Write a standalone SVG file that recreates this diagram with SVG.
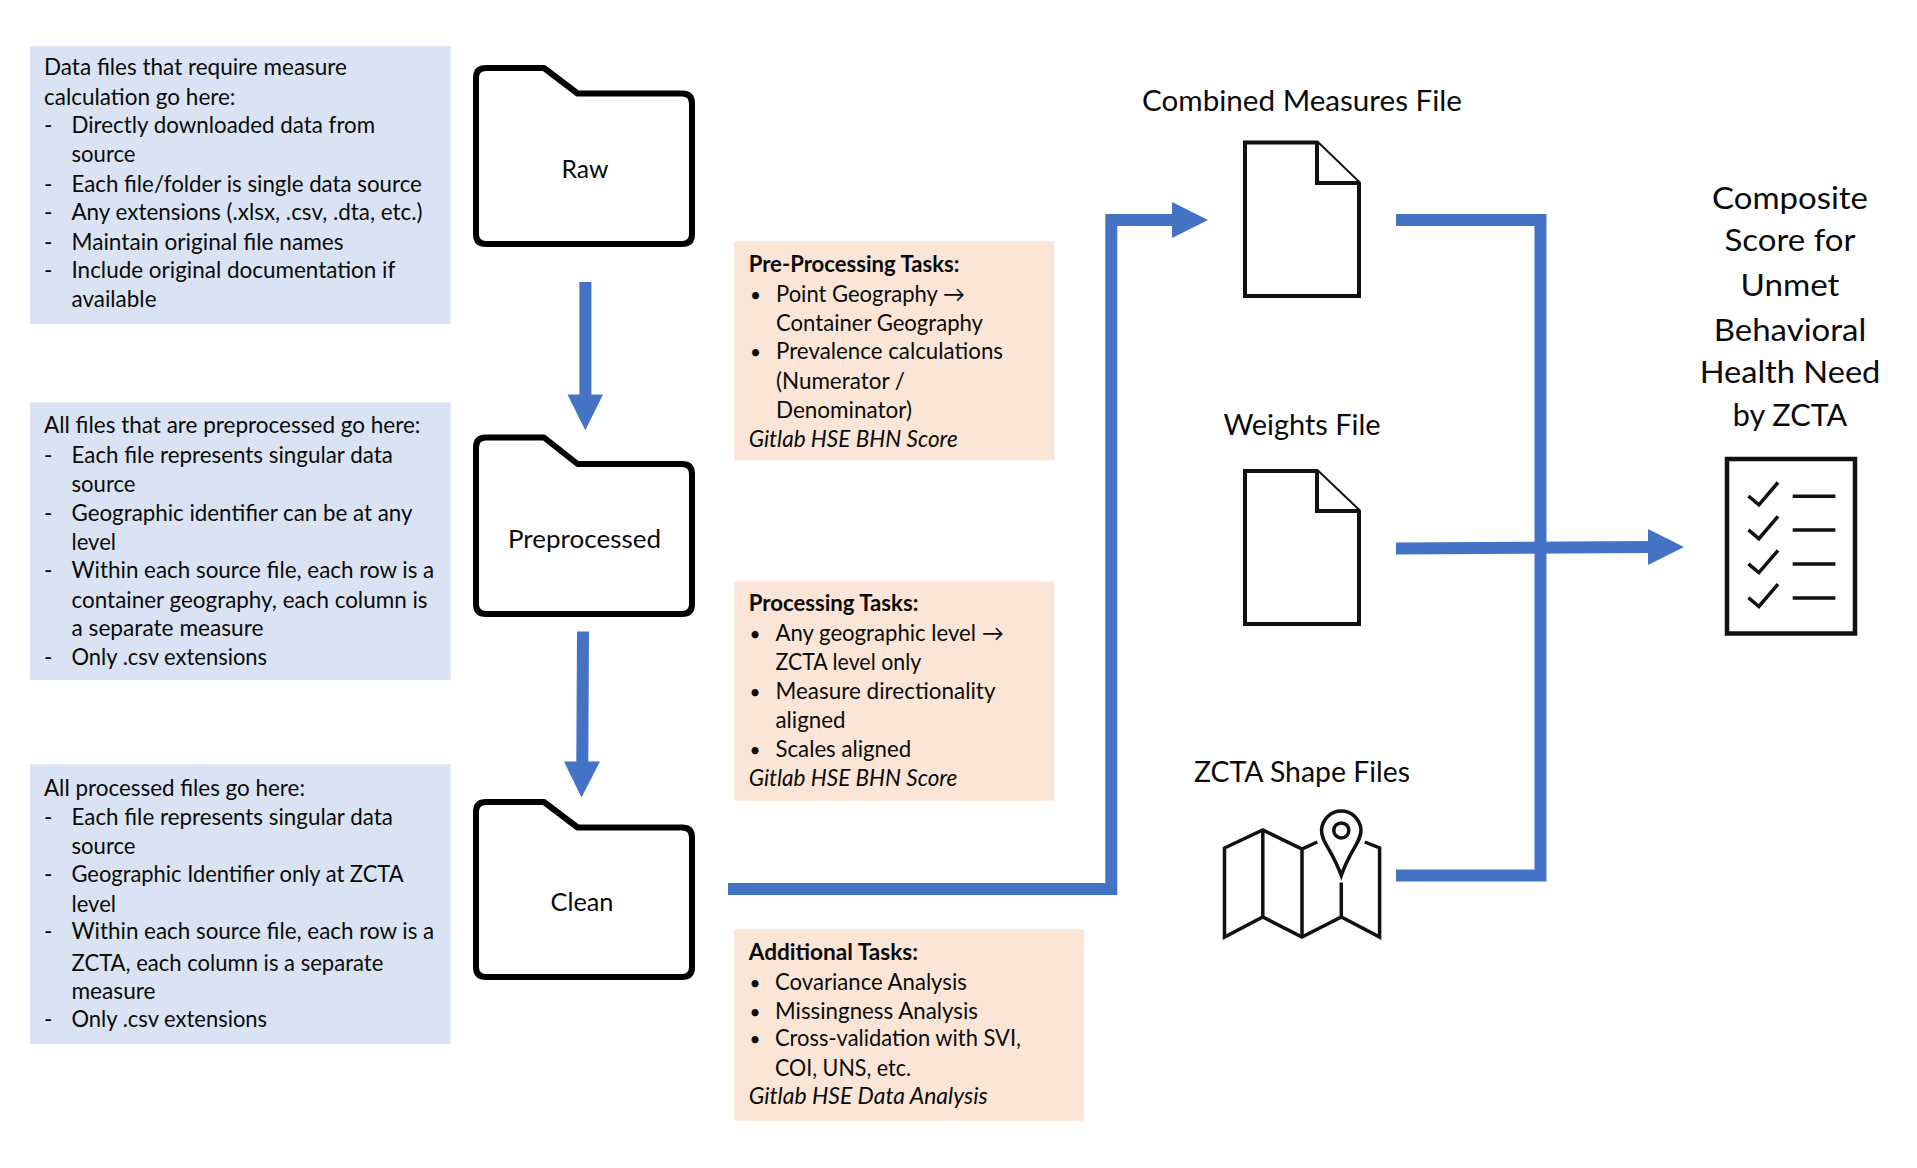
<svg xmlns="http://www.w3.org/2000/svg" width="1917" height="1168" viewBox="0 0 1917 1168">
<style>
text{font-family:Lato,"Liberation Sans",sans-serif;fill:#0a0a0a;font-size:22.5px}
.b{font-weight:700}
.i{font-style:italic}
.m{text-anchor:middle}
.d{font-size:19px}
.fl{font-size:25px}
.lb{font-size:28px}
.cs{font-size:30px}
.blue{fill:#dae3f3}
.orange{fill:#fbe5d6}
.folder{fill:#fff;stroke:#000;stroke-width:6;stroke-linejoin:round}
.doc{fill:#fff;stroke:#111;stroke-width:4;stroke-linejoin:miter}
.ic{fill:none;stroke:#111;stroke-width:3.5}
.conn{fill:none;stroke:#4472c4;stroke-width:12}
.head{fill:#4472c4}
</style>
<rect width="1917" height="1168" fill="#fff"/>
<g id="connectors">
<path class="conn" d="M585.4 282V395"/><polygon class="head" points="567.5,394.5 603,394.5 585.3,430.2"/>
<path class="conn" d="M583 631.5L582.3 762"/><polygon class="head" points="564,761.5 600,761.5 581.5,797.5"/>
<path class="conn" d="M728 889H1111.3V220H1173"/><polygon class="head" points="1172,202 1208,220 1172,238"/>
<path class="conn" d="M1396 220H1540.5V875.5H1396"/>
<path class="conn" d="M1396 548.5L1649 547"/><polygon class="head" points="1648,529 1684,547 1648,565"/>
</g>
<g id="note-raw"><rect class="blue" x="30" y="46.3" width="420.5" height="278"/>
<text x="44" y="75" textLength="303" lengthAdjust="spacingAndGlyphs">Data files that require measure</text>
<text x="44" y="104.5" textLength="191.5" lengthAdjust="spacingAndGlyphs">calculation go here:</text>
<text x="44" y="132.5">-</text><text x="71.5" y="132.5" textLength="303.6" lengthAdjust="spacingAndGlyphs">Directly downloaded data from</text>
<text x="71.5" y="161.7" textLength="64" lengthAdjust="spacingAndGlyphs">source</text>
<text x="44" y="191.5">-</text><text x="71.5" y="191.5" textLength="350.4" lengthAdjust="spacingAndGlyphs">Each file/folder is single data source</text>
<text x="44" y="220">-</text><text x="71.5" y="220" textLength="351" lengthAdjust="spacingAndGlyphs">Any extensions (.xlsx, .csv, .dta, etc.)</text>
<text x="44" y="249.8">-</text><text x="71.5" y="249.8" textLength="272" lengthAdjust="spacingAndGlyphs">Maintain original file names</text>
<text x="44" y="277.8">-</text><text x="71.5" y="277.8" textLength="323.8" lengthAdjust="spacingAndGlyphs">Include original documentation if</text>
<text x="71.5" y="306.7" textLength="85" lengthAdjust="spacingAndGlyphs">available</text>
</g>
<g id="note-preprocessed"><rect class="blue" x="30" y="402.3" width="420.5" height="277.7"/>
<text x="44" y="432.7" textLength="376.5" lengthAdjust="spacingAndGlyphs">All files that are preprocessed go here:</text>
<text x="44" y="463">-</text><text x="71.5" y="463" textLength="321.4" lengthAdjust="spacingAndGlyphs">Each file represents singular data</text>
<text x="71.5" y="492" textLength="64" lengthAdjust="spacingAndGlyphs">source</text>
<text x="44" y="520.5">-</text><text x="71.5" y="520.5" textLength="341" lengthAdjust="spacingAndGlyphs">Geographic identifier can be at any</text>
<text x="71.5" y="549.8" textLength="44.5" lengthAdjust="spacingAndGlyphs">level</text>
<text x="44" y="578.3">-</text><text x="71.5" y="578.3" textLength="362.7" lengthAdjust="spacingAndGlyphs">Within each source file, each row is a</text>
<text x="71.5" y="608" textLength="356" lengthAdjust="spacingAndGlyphs">container geography, each column is</text>
<text x="71.5" y="636" textLength="192" lengthAdjust="spacingAndGlyphs">a separate measure</text>
<text x="44" y="665">-</text><text x="71.5" y="665" textLength="195.6" lengthAdjust="spacingAndGlyphs">Only .csv extensions</text>
</g>
<g id="note-clean"><rect class="blue" x="30" y="764.3" width="420.5" height="280"/>
<text x="44" y="795.5" textLength="261" lengthAdjust="spacingAndGlyphs">All processed files go here:</text>
<text x="44" y="825">-</text><text x="71.5" y="825" textLength="321.4" lengthAdjust="spacingAndGlyphs">Each file represents singular data</text>
<text x="71.5" y="853.8" textLength="64" lengthAdjust="spacingAndGlyphs">source</text>
<text x="44" y="881.8">-</text><text x="71.5" y="881.8" textLength="332" lengthAdjust="spacingAndGlyphs">Geographic Identifier only at ZCTA</text>
<text x="71.5" y="911.7" textLength="44.5" lengthAdjust="spacingAndGlyphs">level</text>
<text x="44" y="939">-</text><text x="71.5" y="939" textLength="362.7" lengthAdjust="spacingAndGlyphs">Within each source file, each row is a</text>
<text x="71.5" y="970.5" textLength="311.8" lengthAdjust="spacingAndGlyphs">ZCTA, each column is a separate</text>
<text x="71.5" y="998.5" textLength="84" lengthAdjust="spacingAndGlyphs">measure</text>
<text x="44" y="1027">-</text><text x="71.5" y="1027" textLength="195.6" lengthAdjust="spacingAndGlyphs">Only .csv extensions</text>
</g>
<g id="folder-raw"><path class="folder" d="M476 78Q476 68 486 68H544L577.6 93.5H682Q692 93.5 692 103.5V234Q692 244 682 244H486Q476 244 476 234Z"/>
<text class="fl m" x="585" y="178" textLength="47" lengthAdjust="spacingAndGlyphs">Raw</text></g>
<g id="folder-preprocessed"><path class="folder" d="M476 447.5Q476 437.5 486 437.5H544L577.6 464H682Q692 464 692 474V604Q692 614 682 614H486Q476 614 476 604Z"/>
<text class="fl m" x="584.5" y="547.5" textLength="153" lengthAdjust="spacingAndGlyphs">Preprocessed</text></g>
<g id="folder-clean"><path class="folder" d="M476 812Q476 802 486 802H544L577.6 827.5H682Q692 827.5 692 837.5V967Q692 977 682 977H486Q476 977 476 967Z"/>
<text class="fl m" x="582" y="910.5" textLength="63" lengthAdjust="spacingAndGlyphs">Clean</text></g>
<g id="tasks-preprocessing"><rect class="orange" x="734.3" y="241.3" width="320" height="219"/>
<text class="b" x="748.7" y="272.3" textLength="210.7" lengthAdjust="spacingAndGlyphs">Pre-Processing Tasks:</text>
<text class="d" x="750" y="302">•</text><text x="776" y="302" textLength="189" lengthAdjust="spacingAndGlyphs">Point Geography →</text>
<text x="776" y="331" textLength="207" lengthAdjust="spacingAndGlyphs">Container Geography</text>
<text class="d" x="750" y="359.4">•</text><text x="776" y="359.4" textLength="227" lengthAdjust="spacingAndGlyphs">Prevalence calculations</text>
<text x="776" y="389.4" textLength="129" lengthAdjust="spacingAndGlyphs">(Numerator /</text>
<text x="776" y="417.5" textLength="136" lengthAdjust="spacingAndGlyphs">Denominator)</text>
<text class="i" x="748.7" y="447" textLength="209" lengthAdjust="spacingAndGlyphs">Gitlab HSE BHN Score</text>
</g>
<g id="tasks-processing"><rect class="orange" x="734.3" y="581.3" width="320" height="219.4"/>
<text class="b" x="748.7" y="611" textLength="169.7" lengthAdjust="spacingAndGlyphs">Processing Tasks:</text>
<text class="d" x="749.5" y="640.7">•</text><text x="775.5" y="640.7" textLength="228.3" lengthAdjust="spacingAndGlyphs">Any geographic level →</text>
<text x="775.5" y="670" textLength="145.7" lengthAdjust="spacingAndGlyphs">ZCTA level only</text>
<text class="d" x="749.5" y="698.5">•</text><text x="775.5" y="698.5" textLength="220" lengthAdjust="spacingAndGlyphs">Measure directionality</text>
<text x="775.5" y="728" textLength="70" lengthAdjust="spacingAndGlyphs">aligned</text>
<text class="d" x="749.5" y="756.9">•</text><text x="775.5" y="756.9" textLength="135.7" lengthAdjust="spacingAndGlyphs">Scales aligned</text>
<text class="i" x="748.7" y="786.1" textLength="208.7" lengthAdjust="spacingAndGlyphs">Gitlab HSE BHN Score</text>
</g>
<g id="tasks-additional"><rect class="orange" x="734.3" y="929.3" width="350" height="191.4"/>
<text class="b" x="748.7" y="959.5" textLength="169.4" lengthAdjust="spacingAndGlyphs">Additional Tasks:</text>
<text class="d" x="749.5" y="990">•</text><text x="775" y="990" textLength="191.8" lengthAdjust="spacingAndGlyphs">Covariance Analysis</text>
<text class="d" x="749.5" y="1018.7">•</text><text x="775" y="1018.7" textLength="203" lengthAdjust="spacingAndGlyphs">Missingness Analysis</text>
<text class="d" x="749.5" y="1046">•</text><text x="775" y="1046" textLength="246" lengthAdjust="spacingAndGlyphs">Cross-validation with SVI,</text>
<text x="775" y="1076" textLength="136" lengthAdjust="spacingAndGlyphs">COI, UNS, etc.</text>
<text class="i" x="748.7" y="1104" textLength="239" lengthAdjust="spacingAndGlyphs">Gitlab HSE Data Analysis</text>
</g>
<g id="combined-measures-file">
<text class="lb m" x="1302" y="111" textLength="320" lengthAdjust="spacingAndGlyphs">Combined Measures File</text>
<path class="doc" d="M1245 142.5H1317L1359 183V296H1245Z"/><path class="doc" d="M1317 142.5V183H1359"/>
</g>
<g id="weights-file">
<text class="lb m" x="1302" y="435" textLength="157" lengthAdjust="spacingAndGlyphs">Weights File</text>
<path class="doc" d="M1245 471H1317L1359 511V624H1245Z"/><path class="doc" d="M1317 471V511H1359"/>
</g>
<g id="zcta-shape-files">
<text class="lb m" x="1302" y="782" textLength="216" lengthAdjust="spacingAndGlyphs">ZCTA Shape Files</text>
<path class="ic" d="M1317.3 842L1302 849L1262.8 830L1224.5 848V937L1262.8 917L1302 937L1341.3 917L1379.6 937V848L1364.8 842M1262.8 830V917M1302 849V937M1341.3 882.5V917"/>
<path class="ic" d="M1341.3 875.5C1332 849.5 1321.5 842.5 1321.5 830A19.8 20.5 0 0 1 1361 830C1361 842.5 1350 849.5 1341.3 875.5Z"/>
<circle class="ic" cx="1341.3" cy="830.4" r="7.5"/>
</g>
<g id="composite-score">
<text class="cs m" x="1790" y="209" textLength="156" lengthAdjust="spacingAndGlyphs">Composite</text>
<text class="cs m" x="1790" y="251" textLength="131" lengthAdjust="spacingAndGlyphs">Score for</text>
<text class="cs m" x="1790" y="295.5" textLength="99" lengthAdjust="spacingAndGlyphs">Unmet</text>
<text class="cs m" x="1790" y="341" textLength="152.6" lengthAdjust="spacingAndGlyphs">Behavioral</text>
<text class="cs m" x="1790" y="383" textLength="180.7" lengthAdjust="spacingAndGlyphs">Health Need</text>
<text class="cs m" x="1790" y="425.5" textLength="114.6" lengthAdjust="spacingAndGlyphs">by ZCTA</text>
<rect x="1727" y="459" width="128" height="174.5" fill="#fff" stroke="#111" stroke-width="4.5"/>
<path class="ic" d="M1748.4 496L1758.9 504.8L1778 482.5M1792.7 496.3H1835.4M1748.4 529.9L1758.9 538.7L1778 516.4M1792.7 529.9H1835.4M1748.4 563.8L1758.9 572.6L1778 550.3M1792.7 564H1835.4M1748.4 597.7L1758.9 606.5L1778 584.2M1792.7 597.9H1835.4"/>
</g>
</svg>
